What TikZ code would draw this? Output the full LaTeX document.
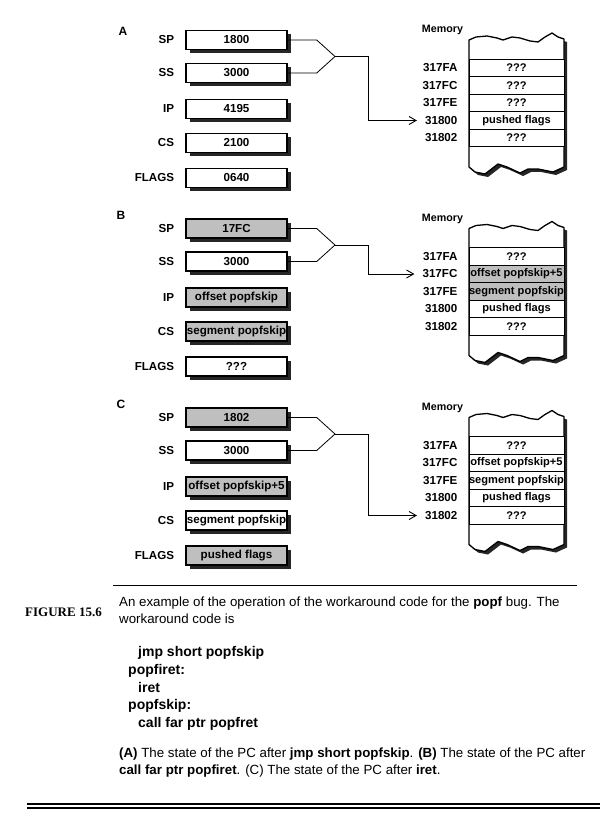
\documentclass[tikz,border=0pt]{standalone}
\usepackage{fontspec}
\setmainfont{Liberation Sans}
\newfontfamily\serifbold{Liberation Serif}
\usetikzlibrary{arrows.meta,positioning,shadows}
\newcommand{\regfont}{\fontsize{11.6}{13}\selectfont\bfseries}
\newcommand{\cellfont}{\fontsize{11.1}{13}\selectfont\bfseries}
% outline of the memory strip, wavy top and torn bottom
\newcommand{\memoutline}{(469,40) -- (476,37) -- (487,36) -- (497,38)
  -- (503,40) -- (512,37) -- (520,38) -- (530,41) -- (538,42) -- (545,37)
  -- (552,33) -- (558,37) -- (564,39) -- (564,167) -- (553,172)
  -- (538,169) -- (528,169) -- (520,173) -- (507,167) -- (498,164)
  -- (485,174) -- (475,172) -- (469,167) -- cycle}
\newcommand{\memframe}{%
  \fill[black!85, shift={(3,3)}] \memoutline;
  \draw[line width=1.3pt, fill=white, line join=round] \memoutline;}

\begin{document}
\begin{tikzpicture}[x=1pt, y=-1pt,
  reg/.style={draw, line width=1.4pt, fill=white, minimum width=101pt,
    minimum height=19pt, inner sep=0pt, font=\regfont,
    drop shadow={shadow xshift=3.5pt, shadow yshift=-3.5pt,
      fill=black!85, opacity=1}},
  regset/.style={reg, fill=black!25},
  regname/.style={inner sep=0pt, font=\regfont},
  cell/.style={draw, line width=0.8pt, fill=white, minimum width=95pt,
    minimum height=17.5pt, inner sep=0pt, font=\cellfont},
  cellset/.style={cell, fill=black!25},
  addr/.style={inner sep=0pt, font=\regfont},
  tag/.style={inner sep=0pt, font=\fontsize{12}{14}\selectfont\bfseries},
  memlabel/.style={inner sep=0pt, font=\fontsize{10.7}{12}\selectfont\bfseries},
  ptr/.style={line width=0.8pt},
  tip/.style={-{Straight Barb[length=7pt,width=8pt,line width=0.9pt]}},
  capt/.style={inner sep=0pt, anchor=base west,
    font=\fontsize{13.3}{16}\selectfont},
  code/.style={inner sep=0pt, anchor=base west,
    font=\fontsize{14}{17}\selectfont\bfseries}]
\useasboundingbox (0,0) rectangle (609,813);

% (A) after jmp short popfskip
\begin{scope}
\node[tag] (a-tag) at (123,31) {A};
\node[reg] (a-sp) at (236.5,40) {1800};
\node[reg] (a-ss) at (236.5,73) {3000};
\node[reg] (a-ip) at (236.5,109) {4195};
\node[reg] (a-cs) at (236.5,143) {2100};
\node[reg] (a-fl) at (236.5,178) {0640};
\node[regname, left=11pt of a-sp] (a-spn) {SP};
\node[regname, left=11pt of a-ss] (a-ssn) {SS};
\node[regname, left=11pt of a-ip] (a-ipn) {IP};
\node[regname, left=11pt of a-cs] (a-csn) {CS};
\node[regname, left=11pt of a-fl] (a-fln) {FLAGS};
\memframe
\node[memlabel] (a-mem) at (442.5,30) {Memory};
\node[cell] (a-m1) at (516.5,68) {???};
\node[cell] (a-m2) at (516.5,85.5) {???};
\node[cell] (a-m3) at (516.5,103) {???};
\node[cell] (a-m4) at (516.5,120.5) {pushed flags};
\node[cell] (a-m5) at (516.5,138) {???};
\node[addr, left=11pt of a-m1] (a-a1) {317FA};
\node[addr, left=11pt of a-m2] (a-a2) {317FC};
\node[addr, left=11pt of a-m3] (a-a3) {317FE};
\node[addr, left=11pt of a-m4] (a-a4) {31800};
\node[addr, left=11pt of a-m5] (a-a5) {31802};
\coordinate (a-j) at (335,56.5);
\draw[ptr] (a-sp.east) -- ++(29,0) -- (a-j);
\draw[ptr] (a-ss.east) -- ++(29,0) -- (a-j);
\draw[ptr, tip] (a-j) -- ++(33,0) |- ([xshift=-8pt]a-a4.west);
\end{scope}

% (B) after call far ptr popfiret
\begin{scope}[yshift=-188.5pt]
\node[tag] (b-tag) at (121,27) {B};
\node[regset] (b-sp) at (236.5,40) {17FC};
\node[reg] (b-ss) at (236.5,73) {3000};
\node[regset] (b-ip) at (236.5,109) {offset popfskip};
\node[regset] (b-cs) at (236.5,143) {segment popfskip};
\node[reg] (b-fl) at (236.5,178) {???};
\node[regname, left=11pt of b-sp] (b-spn) {SP};
\node[regname, left=11pt of b-ss] (b-ssn) {SS};
\node[regname, left=11pt of b-ip] (b-ipn) {IP};
\node[regname, left=11pt of b-cs] (b-csn) {CS};
\node[regname, left=11pt of b-fl] (b-fln) {FLAGS};
\memframe
\node[memlabel] (b-mem) at (442.5,30) {Memory};
\node[cell] (b-m1) at (516.5,68) {???};
\node[cellset] (b-m2) at (516.5,85.5) {offset popfskip+5};
\node[cellset] (b-m3) at (516.5,103) {segment popfskip};
\node[cell] (b-m4) at (516.5,120.5) {pushed flags};
\node[cell] (b-m5) at (516.5,138) {???};
\node[addr, left=11pt of b-m1] (b-a1) {317FA};
\node[addr, left=11pt of b-m2] (b-a2) {317FC};
\node[addr, left=11pt of b-m3] (b-a3) {317FE};
\node[addr, left=11pt of b-m4] (b-a4) {31800};
\node[addr, left=11pt of b-m5] (b-a5) {31802};
\coordinate (b-j) at (335,56.5);
\draw[ptr] (b-sp.east) -- ++(29,0) -- (b-j);
\draw[ptr] (b-ss.east) -- ++(29,0) -- (b-j);
\draw[ptr, tip] (b-j) -- ++(33,0) |- ([xshift=-8pt]b-a2.west);
\end{scope}

% (C) after iret
\begin{scope}[yshift=-377.5pt]
\node[tag] (c-tag) at (121,27) {C};
\node[regset] (c-sp) at (236.5,40) {1802};
\node[reg] (c-ss) at (236.5,73) {3000};
\node[regset] (c-ip) at (236.5,109) {offset popfskip+5};
\node[reg] (c-cs) at (236.5,143) {segment popfskip};
\node[regset] (c-fl) at (236.5,178) {pushed flags};
\node[regname, left=11pt of c-sp] (c-spn) {SP};
\node[regname, left=11pt of c-ss] (c-ssn) {SS};
\node[regname, left=11pt of c-ip] (c-ipn) {IP};
\node[regname, left=11pt of c-cs] (c-csn) {CS};
\node[regname, left=11pt of c-fl] (c-fln) {FLAGS};
\memframe
\node[memlabel] (c-mem) at (442.5,30) {Memory};
\node[cell] (c-m1) at (516.5,68) {???};
\node[cell] (c-m2) at (516.5,85.5) {offset popfskip+5};
\node[cell] (c-m3) at (516.5,103) {segment popfskip};
\node[cell] (c-m4) at (516.5,120.5) {pushed flags};
\node[cell] (c-m5) at (516.5,138) {???};
\node[addr, left=11pt of c-m1] (c-a1) {317FA};
\node[addr, left=11pt of c-m2] (c-a2) {317FC};
\node[addr, left=11pt of c-m3] (c-a3) {317FE};
\node[addr, left=11pt of c-m4] (c-a4) {31800};
\node[addr, left=11pt of c-m5] (c-a5) {31802};
\coordinate (c-j) at (335,56.5);
\draw[ptr] (c-sp.east) -- ++(29,0) -- (c-j);
\draw[ptr] (c-ss.east) -- ++(29,0) -- (c-j);
\draw[ptr, tip] (c-j) -- ++(33,0) |- ([xshift=-8pt]c-a5.west);
\end{scope}

% caption
\draw[line width=1pt] (113,585) -- (577,585);
\node[inner sep=0pt, anchor=base west, font=\fontsize{13}{15}\selectfont\serifbold\bfseries]
  (fignum) at (25,616.5) {FIGURE 15.6};
\node[capt] (cap1) at (119,606.5) {An example of the operation of the
  workaround code for the \textbf{popf} bug. The};
\node[capt] (cap2) at (119,623.5) {workaround code is};
\node[code] (code1) at (138,656) {jmp short popfskip};
\node[code] (code2) at (128,674) {popfiret:};
\node[code] (code3) at (138,692) {iret};
\node[code] (code4) at (128,709) {popfskip:};
\node[code] (code5) at (138,727) {call far ptr popfret};
\node[capt] (cap3) at (119,757) {\textbf{(A)} The state of the PC after
  \textbf{jmp short popfskip}. \textbf{(B)} The state of the PC after};
\node[capt] (cap4) at (119,774) {\textbf{call far ptr popfiret}. (C) The
  state of the PC after \textbf{iret}.};
\draw[line width=1.2pt] (27,804) -- (600,804) (27,808) -- (600,808);
\end{tikzpicture}
\end{document}
